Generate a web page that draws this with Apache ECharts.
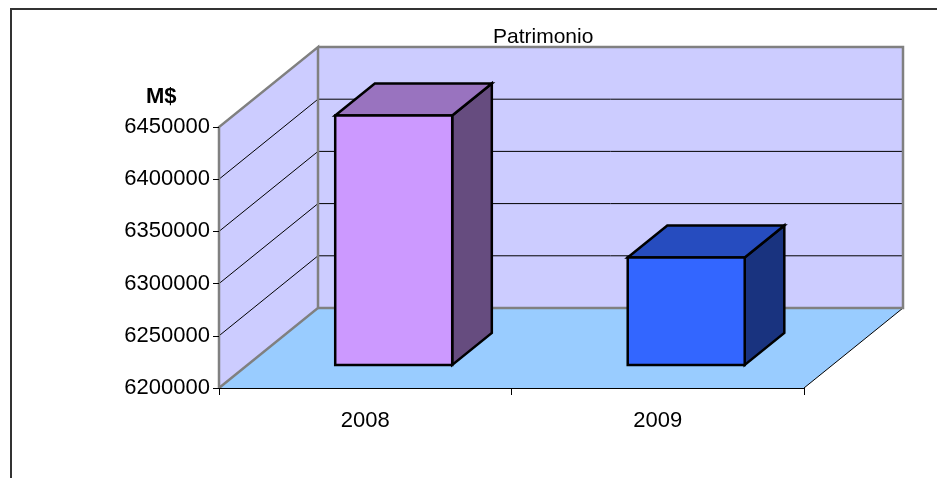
<!DOCTYPE html>
<html><head><meta charset="utf-8">
<script src="https://cdn.jsdelivr.net/npm/echarts@6/dist/echarts.min.js"></script>
<style>html,body{margin:0;padding:0;background:#fff}#c{width:937px;height:478px}</style>
</head><body><div id="c"></div>
<script>
// ---- data ----
const categories = ['2008', '2009'];
const values = [6439000, 6303000];
const yTicks = [6200000, 6250000, 6300000, 6350000, 6400000, 6450000];
const yMin = 6200000, yMax = 6450000, yStep = 50000;
const titleText = 'Patrimonio';
const unitText = 'M$';

// ---- style ----
const frontColors = ['#CC99FF', '#3366FF'];
const topColors = ['#9973BF', '#264CBF'];
const sideColors = ['#664C7F', '#19337F'];
const DX = 99, DY = -80;      // depth offset of back wall (px)
const F0 = 0.2875, F1 = 0.6875; // bar depth range (fraction)
const FONT = 'Liberation Sans';

function pt(p, f) { return [p[0] + DX * f, p[1] + DY * f]; }

const chart = echarts.init(document.getElementById('c'), null, { renderer: 'canvas' });

function renderScene(params, api) {
  const c0 = api.coord([0, yMin]);
  const bw = api.size([1, 0])[0];
  const x0 = c0[0] - bw / 2;
  const x1 = x0 + bw * categories.length;
  const yb = c0[1];
  const yt = api.coord([0, yMax])[1];
  const FL = [x0, yb], FR = [x1, yb], BL = pt(FL, 1), BR = pt(FR, 1);
  const TL = [x0, yt], BTL = pt(TL, 1), BTR = pt([x1, yt], 1);
  const ch = [];
  ch.push({ type: 'polygon', shape: { points: [FL, FR, BR, BL] }, style: { fill: '#99CCFF' } });
  ch.push({ type: 'line', shape: { x1: FR[0], y1: FR[1], x2: BR[0], y2: BR[1] }, style: { stroke: '#000', lineWidth: 1 } });
  ch.push({ type: 'polygon', shape: { points: [FL, BL, BTL, TL] }, style: { fill: '#CCCCFF' } });
  ch.push({ type: 'polygon', shape: { points: [BL, BR, BTR, BTL] }, style: { fill: '#CCCCFF' } });
  yTicks.forEach(v => {
    if (v === yMin || v === yMax) return;
    const p = [x0, api.coord([0, v])[1]];
    const q = pt(p, 1);
    const r = [q[0] + (x1 - x0), q[1]];
    ch.push({ type: 'polyline', shape: { points: [p, q, r] }, style: { stroke: '#000', lineWidth: 1, fill: null } });
  });
  const edge = { stroke: '#808080', lineWidth: 2.5, fill: null };
  ch.push({ type: 'polyline', shape: { points: [FL, TL, BTL, BL, FL] }, style: edge });
  ch.push({ type: 'polyline', shape: { points: [BL, BR, BTR, BTL] }, style: edge });
  return { type: 'group', children: ch };
}

function renderBar(params, api) {
  const i = api.value(0), v = api.value(1);
  const top = api.coord([i, v]), base = api.coord([i, yMin]);
  const w = api.size([1, 0])[0] * 0.4;
  const l = top[0] - w / 2, r = top[0] + w / 2;
  const fTL = pt([l, top[1]], F0), fTR = pt([r, top[1]], F0);
  const fBL = pt([l, base[1]], F0), fBR = pt([r, base[1]], F0);
  const bTL = pt([l, top[1]], F1), bTR = pt([r, top[1]], F1), bBR = pt([r, base[1]], F1);
  const s = { stroke: '#000', lineWidth: 2.5, lineJoin: 'miter' };
  return { type: 'group', children: [
    { type: 'polygon', shape: { points: [fTR, bTR, bBR, fBR] }, style: Object.assign({ fill: sideColors[i] }, s) },
    { type: 'polygon', shape: { points: [fTL, bTL, bTR, fTR] }, style: Object.assign({ fill: topColors[i] }, s) },
    { type: 'polygon', shape: { points: [fTL, fTR, fBR, fBL] }, style: Object.assign({ fill: frontColors[i] }, s) }
  ] };
}

chart.setOption({
  animation: false,
  backgroundColor: '#fff',
  title: {
    text: titleText, left: 493, top: 27, padding: 0,
    textStyle: { fontFamily: FONT, fontSize: 21, fontWeight: 'normal', color: '#000' }
  },
  graphic: [
    { type: 'rect', shape: { x: 11, y: 9, width: 1000, height: 1000 }, style: { fill: null, stroke: '#333', lineWidth: 2 } },
    { type: 'text', left: 146, top: 86, style: { text: unitText, font: 'bold 22px ' + FONT, fill: '#000' } }
  ],
  grid: { left: 219, right: 133, top: 127, bottom: 90 },
  xAxis: {
    type: 'category', data: categories, boundaryGap: true, z: 10,
    axisLine: { lineStyle: { color: '#000', width: 1 } },
    axisTick: { show: true, length: 7, lineStyle: { color: '#000' } },
    axisLabel: { fontFamily: FONT, fontSize: 22, color: '#000', margin: 22 },
    splitLine: { show: false }
  },
  yAxis: {
    type: 'value', min: yMin, max: yMax, interval: yStep, z: 10,
    axisLine: { show: false },
    axisTick: { show: true, length: 6, lineStyle: { color: '#000' } },
    axisLabel: { fontFamily: FONT, fontSize: 22, color: '#000', margin: 9, formatter: v => String(v) },
    splitLine: { show: false }
  },
  series: [
    { type: 'custom', silent: true, z: 1, renderItem: renderScene, data: [[0, yMin]] },
    { type: 'custom', z: 3, renderItem: renderBar, data: values.map((v, i) => [i, v]) }
  ]
});
</script>
</body></html>
